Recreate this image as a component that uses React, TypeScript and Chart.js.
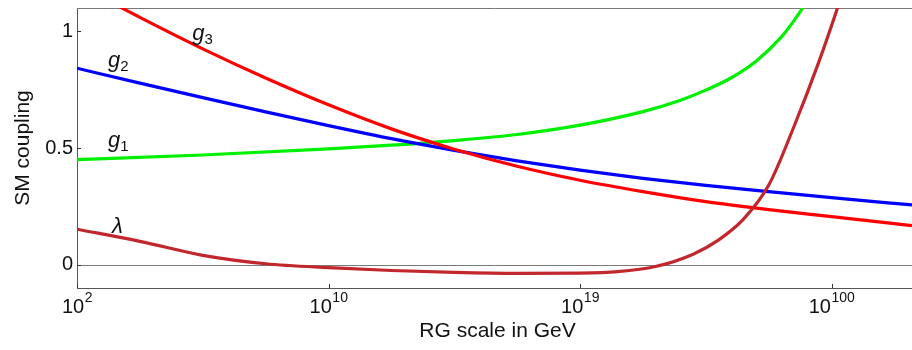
import { useEffect, useRef } from "react";
import { Chart, registerables } from "chart.js";

Chart.register(...registerables);

// x axis: equally spaced tick positions labelled with RG scale in GeV
const xTickPositions = [0, 1, 2, 3];
const xTickBase = ["10", "10", "10", "10"];
const xTickExponents = ["2", "10", "19", "100"];
const yTickValues = [0, 0.5, 1];
const yTickLabels = ["0", "0.5", "1"];

// g1 (green)
const g1T = [0, 0.5, 1.0, 1.25, 1.5, 1.75, 2.0, 2.25, 2.4, 2.5, 2.6, 2.7, 2.8, 2.85, 2.9, 2.95];
const g1V = [0.45, 0.47, 0.496, 0.512, 0.532, 0.558, 0.598, 0.656, 0.705, 0.748, 0.8, 0.872, 0.975, 1.045, 1.125, 1.22];

// g2 (blue)
const g2T = [0, 0.25, 0.5, 0.75, 1.0, 1.25, 1.5, 1.75, 2.0, 2.25, 2.5, 2.75, 3.0, 3.32];
const g2V = [0.842, 0.778, 0.716, 0.655, 0.596, 0.54, 0.49, 0.445, 0.405, 0.37, 0.34, 0.313, 0.287, 0.256];

// g3 (red)
const g3T = [0.1, 0.25, 0.5, 0.75, 1.0, 1.25, 1.5, 1.75, 2.0, 2.25, 2.5, 2.75, 3.0, 3.32];
const g3V = [1.145, 1.06, 0.925, 0.8, 0.685, 0.582, 0.495, 0.422, 0.362, 0.313, 0.27, 0.236, 0.206, 0.167];

// lambda (dark red)
const lamT = [0, 0.25, 0.5, 0.75, 1.0, 1.25, 1.5, 1.75, 2.0, 2.15, 2.3, 2.45, 2.55, 2.65, 2.75, 2.85, 2.95, 3.03, 3.06];
const lamV = [0.152, 0.1, 0.04, 0.004, -0.013, -0.025, -0.033, -0.037, -0.036, -0.03, -0.008, 0.045, 0.105, 0.195, 0.34, 0.59, 0.87, 1.12, 1.22];

// curve annotations (data coordinates of the text baseline start)
const labelNames = ["g", "g", "g", "λ"];
const labelSubs = ["3", "2", "1", ""];
const labelT = [0.458, 0.123, 0.123, 0.139];
const labelV = [0.963, 0.847, 0.504, 0.136];

const FONT = "'Liberation Sans', Arial, Helvetica, sans-serif";

const toPoints = (t: number[], v: number[]) => t.map((x, i) => ({ x, y: v[i] }));

const decorPlugin = {
  id: "decor",
  beforeDatasetsDraw(chart: any) {
    const { ctx, chartArea: a, scales } = chart;
    const y = scales.y;
    ctx.save();
    ctx.strokeStyle = "#7a7a7a";
    ctx.lineWidth = 1;
    const y0 = Math.round(y.getPixelForValue(0)) + 0.5;
    ctx.beginPath();
    ctx.moveTo(a.left, y0);
    ctx.lineTo(a.right, y0);
    ctx.stroke();
    const yt = Math.round(a.top) + 0.5;
    ctx.beginPath();
    ctx.moveTo(a.left, yt);
    ctx.lineTo(a.right, yt);
    ctx.stroke();
    ctx.restore();
  },
  afterDraw(chart: any) {
    const { ctx, chartArea: a, scales } = chart;
    const x = scales.x;
    const y = scales.y;
    ctx.save();
    // inside tick marks
    ctx.strokeStyle = "#333";
    ctx.lineWidth = 1;
    xTickPositions.forEach((t) => {
      const px = Math.round(x.getPixelForValue(t)) + 0.5;
      ctx.beginPath();
      ctx.moveTo(px, a.bottom);
      ctx.lineTo(px, a.bottom - 4);
      ctx.stroke();
    });
    yTickValues.forEach((v) => {
      const py = Math.round(y.getPixelForValue(v)) + 0.5;
      ctx.beginPath();
      ctx.moveTo(a.left, py);
      ctx.lineTo(a.left + 4, py);
      ctx.stroke();
    });

    // x tick labels with superscripts
    ctx.fillStyle = "#111";
    ctx.textBaseline = "alphabetic";
    ctx.textAlign = "left";
    xTickPositions.forEach((t, i) => {
      const px = x.getPixelForValue(t);
      ctx.font = `20px ${FONT}`;
      const wb = ctx.measureText(xTickBase[i]).width;
      ctx.font = `14px ${FONT}`;
      const we = ctx.measureText(xTickExponents[i]).width;
      const start = px - (wb + we) / 2;
      ctx.font = `20px ${FONT}`;
      ctx.fillText(xTickBase[i], start, a.bottom + 25);
      ctx.font = `14px ${FONT}`;
      ctx.fillText(xTickExponents[i], start + wb + 0.5, a.bottom + 14);
    });

    // axis titles
    ctx.font = `21px ${FONT}`;
    ctx.textAlign = "center";
    ctx.fillText("RG scale in GeV", (a.left + a.right) / 2 + 3, a.bottom + 49);
    ctx.save();
    ctx.translate(29, (a.top + a.bottom) / 2);
    ctx.rotate(-Math.PI / 2);
    ctx.textAlign = "center";
    ctx.fillText("SM coupling", 0, 0);
    ctx.restore();

    // curve labels
    ctx.textAlign = "left";
    labelNames.forEach((n, i) => {
      const px = x.getPixelForValue(labelT[i]);
      const py = y.getPixelForValue(labelV[i]);
      ctx.font = `italic 22px ${FONT}`;
      ctx.fillText(n, px, py);
      const w = ctx.measureText(n).width;
      if (labelSubs[i]) {
        ctx.font = `15px ${FONT}`;
        ctx.fillText(labelSubs[i], px + w, py + 4);
      }
    });
    ctx.restore();
  },
};

export default function App() {
  const ref = useRef<HTMLCanvasElement | null>(null);
  useEffect(() => {
    if (!ref.current) return;
    const line = (label: string, data: any, color: string, order: number) => ({
      label,
      data,
      borderColor: color,
      backgroundColor: color,
      borderWidth: 3.2,
      pointRadius: 0,
      fill: false,
      cubicInterpolationMode: "monotone" as const,
      clip: 0,
      order,
    });
    const zeroPad = (s: any) => {
      s.paddingTop = 0;
      s.paddingBottom = 0;
      s.paddingLeft = 0;
      s.paddingRight = 0;
    };
    const chart = new Chart(ref.current, {
      type: "line",
      data: {
        datasets: [
          line("g1", toPoints(g1T, g1V), "#00f000", 3),
          line("g2", toPoints(g2T, g2V), "#0000ff", 2),
          line("g3", toPoints(g3T, g3V), "#ff0000", 1),
          line("λ", toPoints(lamT, lamV), "#c1272d", 0),
        ],
      },
      options: {
        animation: false,
        responsive: true,
        maintainAspectRatio: false,
        layout: { padding: { left: 0, right: 0, top: 8, bottom: 0 } },
        plugins: { legend: { display: false }, tooltip: { enabled: false } },
        scales: {
          x: {
            type: "linear",
            min: 0,
            max: 3.32,
            afterBuildTicks: (s: any) => {
              s.ticks = xTickPositions.map((v) => ({ value: v }));
            },
            afterFit: (s: any) => {
              s.height = 62;
              zeroPad(s);
            },
            ticks: { display: false },
            grid: { display: false, drawTicks: false },
            border: { display: true, color: "#555", width: 1 },
          },
          y: {
            type: "linear",
            min: -0.1,
            max: 1.1,
            afterBuildTicks: (s: any) => {
              s.ticks = yTickValues.map((v) => ({ value: v }));
            },
            afterFit: (s: any) => {
              s.width = 77;
              zeroPad(s);
            },
            ticks: {
              callback: (_v: any, i: number) => yTickLabels[i],
              font: { family: FONT, size: 20 },
              color: "#111",
              padding: 4,
            },
            grid: { display: false, drawTicks: false },
            border: { display: true, color: "#555", width: 1 },
          },
        },
      },
      plugins: [decorPlugin],
    });
    return () => chart.destroy();
  }, []);
  return (
    <div style={{ position: "absolute", left: 0, top: 0, width: 912, height: 350, background: "#fff" }}>
      <canvas ref={ref} />
    </div>
  );
}
